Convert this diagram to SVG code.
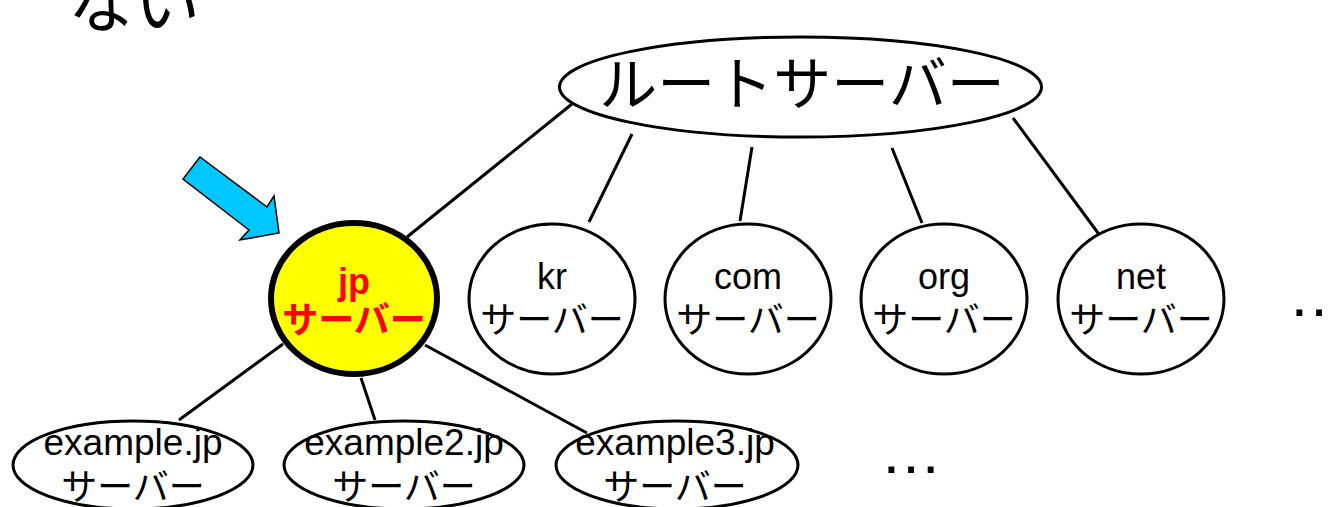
<svg xmlns="http://www.w3.org/2000/svg" width="1333" height="507" viewBox="0 0 1333 507">
  <style>
    .txt { font-family: "Liberation Sans", "Noto Sans CJK JP", sans-serif; fill: #000; }
    .node { fill: #fff; stroke: #000; stroke-width: 3; }
    .lbl { font-size: 36px; text-anchor: middle; }
    .sub { font-size: 37px; text-anchor: middle; }
    .link { stroke: #000; stroke-width: 3; fill: none; }
  </style>

  <!-- heading text, partly above the top edge -->
  <text class="txt" x="68" y="27" font-size="66" font-family="Noto Sans CJK JP, sans-serif">ない</text>

  <!-- connectors -->
  <g id="connectors">
    <line class="link" x1="572" y1="104" x2="407" y2="237"/>
    <line class="link" x1="632" y1="134" x2="589" y2="222"/>
    <line class="link" x1="752" y1="147" x2="740" y2="221"/>
    <line class="link" x1="892" y1="148" x2="922" y2="223"/>
    <line class="link" x1="1013" y1="118" x2="1101" y2="237"/>
    <line class="link" x1="283" y1="344" x2="179" y2="420"/>
    <line class="link" x1="361" y1="378" x2="375" y2="420"/>
    <line class="link" x1="425" y1="345" x2="587" y2="433"/>
  </g>

  <g id="root">
    <ellipse class="node" cx="800.5" cy="87" rx="241" ry="50"/>
    <text class="txt" x="802" y="105" font-size="58" text-anchor="middle">ルートサーバー</text>
  </g>

  <g id="jp">
    <ellipse cx="354" cy="298.5" rx="83" ry="75.5" fill="#ffff00" stroke="#000" stroke-width="6"/>
    <text class="txt lbl" x="354" y="294" style="fill:#ff0000" font-weight="bold">jp</text>
    <text class="txt lbl" x="354" y="333" style="fill:#ff0000" font-weight="bold">サーバー</text>
  </g>

  <g id="kr">
    <ellipse class="node" cx="552" cy="299" rx="83" ry="75"/>
    <text class="txt lbl" x="552" y="289">kr</text>
    <text class="txt lbl" x="552" y="333">サーバー</text>
  </g>

  <g id="com">
    <ellipse class="node" cx="748" cy="299" rx="83" ry="75"/>
    <text class="txt lbl" x="748" y="289">com</text>
    <text class="txt lbl" x="748" y="333">サーバー</text>
  </g>

  <g id="org">
    <ellipse class="node" cx="944" cy="299" rx="83" ry="75"/>
    <text class="txt lbl" x="944" y="289">org</text>
    <text class="txt lbl" x="944" y="333">サーバー</text>
  </g>

  <g id="net">
    <ellipse class="node" cx="1141" cy="299" rx="83" ry="75"/>
    <text class="txt lbl" x="1141" y="289">net</text>
    <text class="txt lbl" x="1141" y="333">サーバー</text>
  </g>

  <g id="example-jp">
    <ellipse class="node" cx="133" cy="465" rx="120" ry="44"/>
    <text class="txt sub" x="133" y="455">example.jp</text>
    <text class="txt lbl" x="133" y="500">サーバー</text>
  </g>

  <g id="example2-jp">
    <ellipse class="node" cx="404" cy="465" rx="120" ry="44"/>
    <text class="txt sub" x="404" y="455">example2.jp</text>
    <text class="txt lbl" x="404" y="500">サーバー</text>
  </g>

  <g id="example3-jp">
    <ellipse class="node" cx="677" cy="465" rx="121" ry="44"/>
    <text class="txt sub" x="675" y="455">example3.jp</text>
    <text class="txt lbl" x="675" y="500">サーバー</text>
  </g>

  <!-- continuation marks -->
  <text class="txt" x="880" y="473" font-size="62">…</text>
  <text class="txt" x="1288" y="316" font-size="62">…</text>

  <!-- pointer arrow -->
  <g id="pointer">
    <polygon points="200,157 183,179 249,230 240,240 279,233 274,196 267,207" fill="#00c8ff" stroke="#000" stroke-width="1.5" stroke-linejoin="miter"/>
  </g>
</svg>
